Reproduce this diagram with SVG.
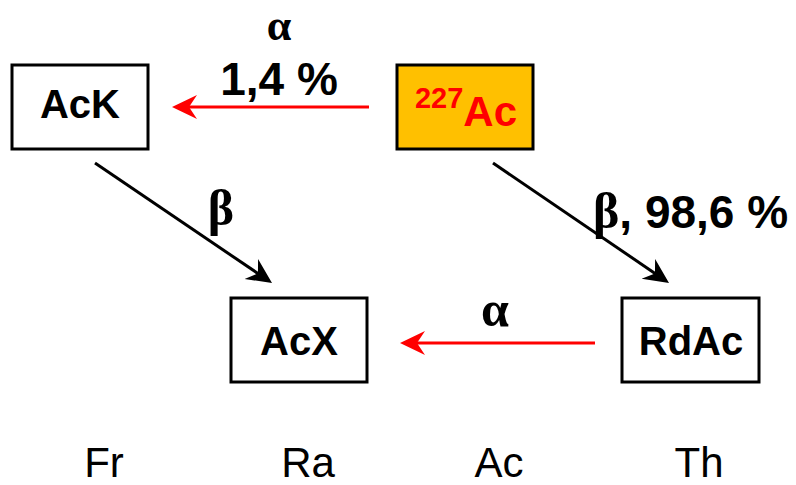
<svg xmlns="http://www.w3.org/2000/svg" width="796" height="485" viewBox="0 0 796 485">
<style>
.box{fill:#fff;stroke:#000;stroke-width:3}
.lbl{font-family:"Liberation Sans",Arial,sans-serif;font-weight:bold;font-size:40px;fill:#000;text-anchor:middle}
.big{font-family:"Liberation Sans",Arial,sans-serif;font-weight:bold;font-size:46px;fill:#000}
.greek{font-family:"Liberation Serif","DejaVu Serif",serif;font-weight:bold;font-size:50px;fill:#000}
.el{font-family:"Liberation Sans",Arial,sans-serif;font-size:42px;fill:#000;text-anchor:middle}
.red{stroke:#ff0000;stroke-width:3;fill:none}
.blk{stroke:#000;stroke-width:3;fill:none}
</style>
<defs>
<marker id="ar" markerUnits="userSpaceOnUse" markerWidth="26" markerHeight="26" refX="21" refY="12" orient="auto">
<path d="M0,0 L25,12 L0,24 L8,12 z" fill="#ff0000"/>
</marker>
<marker id="ab" markerUnits="userSpaceOnUse" markerWidth="26" markerHeight="26" refX="21" refY="12" orient="auto">
<path d="M0,0 L25,12 L0,24 L8,12 z" fill="#000"/>
</marker>
</defs>
<g id="connectors">
<line class="red" x1="369" y1="107" x2="176" y2="107" marker-end="url(#ar)"/>
<line class="red" x1="595" y1="343" x2="404" y2="343" marker-end="url(#ar)"/>
<line class="blk" x1="95" y1="163" x2="268.7" y2="280.8" marker-end="url(#ab)"/>
<line class="blk" x1="493" y1="163" x2="665.7" y2="280.7" marker-end="url(#ab)"/>
<text class="greek" x="279" y="40" text-anchor="middle" style="font-size:44px">α</text>
<text class="big" x="279" y="95" text-anchor="middle">1,4 %</text>
<text class="greek" x="221" y="225" text-anchor="middle">β</text>
<text x="593" y="228"><tspan class="greek">β</tspan><tspan class="big">, 98,6 %</tspan></text>
<text class="greek" x="495" y="326" text-anchor="middle">α</text>
</g>
<g id="AcK">
<rect class="box" x="12" y="65" width="136" height="84"/>
<text class="lbl" x="80" y="118">AcK</text>
</g>
<g id="Ac227">
<rect x="397" y="65" width="136" height="84" fill="#ffc000" stroke="#000" stroke-width="3"/>
<text x="466" y="126" font-family="Liberation Sans,Arial,sans-serif" font-weight="bold" fill="#ff0000" text-anchor="middle"><tspan font-size="29" dy="-18">227</tspan><tspan font-size="42" dy="18">Ac</tspan></text>
</g>
<g id="AcX">
<rect class="box" x="231" y="298" width="136" height="84"/>
<text class="lbl" x="299" y="355">AcX</text>
</g>
<g id="RdAc">
<rect class="box" x="622" y="298" width="137" height="84"/>
<text class="lbl" x="691" y="355">RdAc</text>
</g>
<g id="elements">
<text class="el" x="104" y="477">Fr</text>
<text class="el" x="308" y="477">Ra</text>
<text class="el" x="499" y="477">Ac</text>
<text class="el" x="699" y="477">Th</text>
</g>
</svg>
